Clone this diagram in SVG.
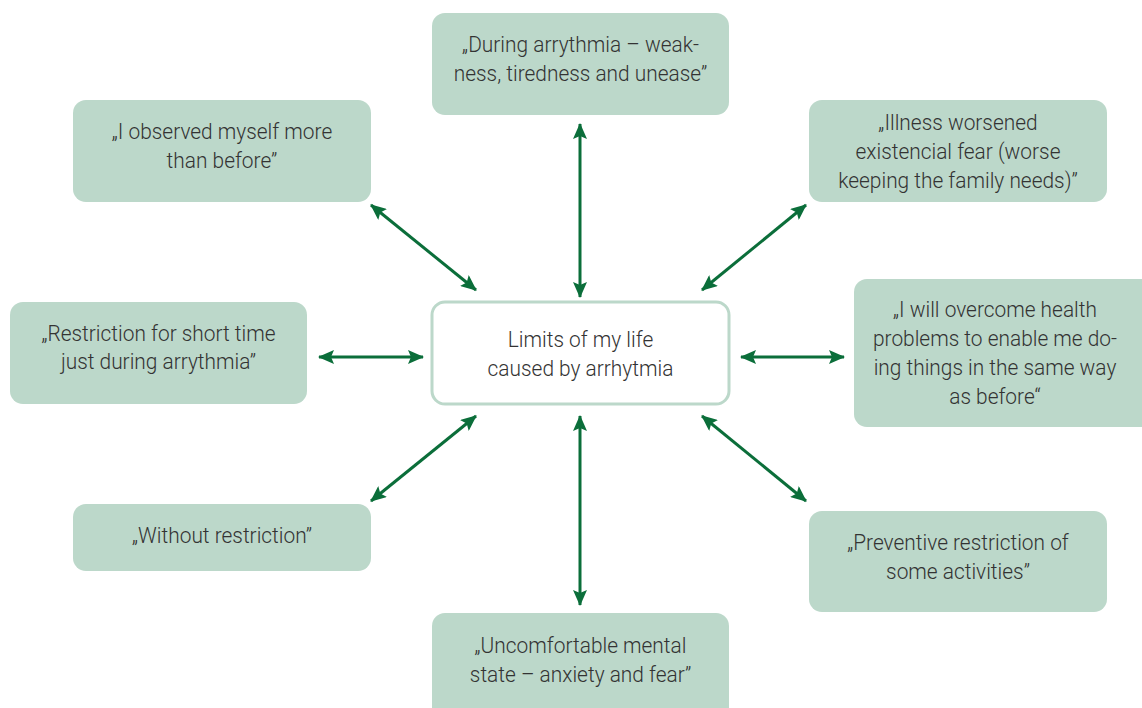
<svg xmlns="http://www.w3.org/2000/svg" width="1142" height="708" viewBox="0 0 1142 708">
<style>
.box{fill:#bcd8ca;}
.center{fill:#ffffff;stroke:#bcd8ca;stroke-width:3;}
.t{font-family:Roboto,"Liberation Sans",sans-serif;font-weight:300;font-size:22px;fill:#333333;text-anchor:middle;}
.c{stroke:#0b6e3a;stroke-width:3;fill:none;marker-start:url(#ah);marker-end:url(#ah);}
</style>
<defs>
<marker id="ah" viewBox="0 0 16 14" refX="15" refY="7" markerWidth="16" markerHeight="14" markerUnits="userSpaceOnUse" orient="auto-start-reverse">
<path d="M0,0 L16,7 L0,14 L3,7 Z" fill="#0b6e3a"/>
</marker>
</defs>
<rect width="1142" height="708" fill="#ffffff"/>
<g id="connectors">
<line class="c" x1="580" y1="124" x2="580" y2="297"/>
<line class="c" x1="371" y1="205" x2="476" y2="290"/>
<line class="c" x1="806" y1="205" x2="702" y2="290"/>
<line class="c" x1="319" y1="357" x2="423" y2="357"/>
<line class="c" x1="741" y1="357" x2="844" y2="357"/>
<line class="c" x1="476" y1="416" x2="371" y2="501"/>
<line class="c" x1="702" y1="416" x2="806" y2="501"/>
<line class="c" x1="580" y1="416" x2="580" y2="605"/>
</g>
<g id="center">
<rect class="center" x="432" y="302" width="297" height="102" rx="13"/>
<g transform="matrix(0.95 0 0 1 29.025 0)">
<text class="t" x="580.5" y="347">Limits of my life</text>
<text class="t" x="580.5" y="376">caused by arrhytmia</text>
</g>
</g>
<g id="top">
<rect class="box" x="432" y="13" width="297" height="102" rx="13"/>
<g transform="matrix(0.95 0 0 1 29.025 0)">
<text class="t" x="580.5" y="52">„During arrythmia – weak-</text>
<text class="t" x="580.5" y="81">ness, tiredness and unease”</text>
</g>
</g>
<g id="top-left">
<rect class="box" x="73" y="100" width="298" height="102" rx="13"/>
<g transform="matrix(0.95 0 0 1 11.1 0)">
<text class="t" x="222" y="139">„I observed myself more</text>
<text class="t" x="222" y="168">than before”</text>
</g>
</g>
<g id="top-right">
<rect class="box" x="809" y="100" width="298" height="102" rx="13"/>
<g transform="matrix(0.95 0 0 1 47.9 0)">
<text class="t" x="958" y="130">„Illness worsened</text>
<text class="t" x="958" y="159">existencial fear (worse</text>
<text class="t" x="958" y="188">keeping the family needs)”</text>
</g>
</g>
<g id="left">
<rect class="box" x="10" y="302" width="297" height="102" rx="13"/>
<g transform="matrix(0.95 0 0 1 7.925 0)">
<text class="t" x="158.5" y="341">„Restriction for short time</text>
<text class="t" x="158.5" y="369">just during arrythmia”</text>
</g>
</g>
<g id="right">
<rect class="box" x="854" y="279" width="300" height="148" rx="13"/>
<g transform="matrix(0.95 0 0 1 49.75 0)">
<text class="t" x="995" y="317">„I will overcome health</text>
<text class="t" x="995" y="346">problems to enable me do-</text>
<text class="t" x="995" y="375">ing things in the same way</text>
<text class="t" x="995" y="404">as before“</text>
</g>
</g>
<g id="bottom-left">
<rect class="box" x="73" y="504" width="298" height="67" rx="13"/>
<g transform="matrix(0.95 0 0 1 11.1 0)">
<text class="t" x="222" y="543">„Without restriction”</text>
</g>
</g>
<g id="bottom-right">
<rect class="box" x="809" y="511" width="298" height="101" rx="13"/>
<g transform="matrix(0.95 0 0 1 47.9 0)">
<text class="t" x="958" y="550">„Preventive restriction of</text>
<text class="t" x="958" y="579">some activities”</text>
</g>
</g>
<g id="bottom">
<rect class="box" x="432" y="613" width="297" height="110" rx="13"/>
<g transform="matrix(0.95 0 0 1 29.025 0)">
<text class="t" x="580.5" y="653">„Uncomfortable mental</text>
<text class="t" x="580.5" y="682">state – anxiety and fear”</text>
</g>
</g>
</svg>
